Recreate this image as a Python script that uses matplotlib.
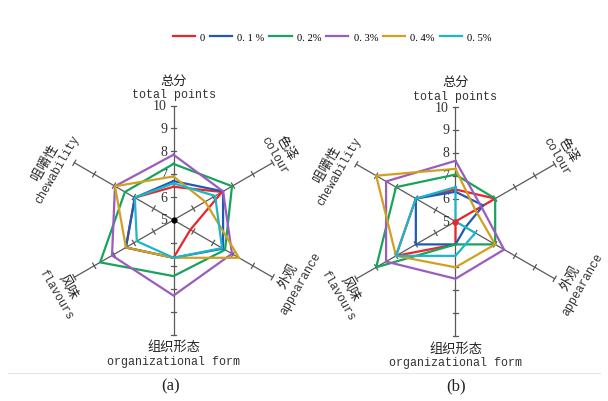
import numpy as np
import matplotlib
matplotlib.use("Agg")
import matplotlib.pyplot as plt
from matplotlib.lines import Line2D

# Axis names (clockwise from the top)
categories_cn = ["总分", "色泽", "外观", "组织形态", "风味", "咀嚼性"]
categories_en = ["total points", "colour", "appearance", "organizational form", "flavours", "chewability"]
axis_angles = [90, 30, -30, -90, 210, 150]

series_labels = ["0", "0. 1 %", "0. 2%", "0. 3%", "0. 4%", "0. 5%"]
series_colors = ["#e8262b", "#1f5bb5", "#18a35c", "#9a5cbf", "#d2a020", "#1bb6c9"]

# Scores (a) and panel (b), same axis order as above
scores_a = [
    [6.45, 7.45, 5.85, 6.65, 7.4, 6.95],
    [6.7, 7.5, 7.5, 6.65, 7.4, 6.95],
    [7.45, 7.95, 7.6, 7.45, 8.7, 7.45],
    [7.85, 7.5, 7.95, 8.3, 8.1, 7.95],
    [6.9, 6.6, 8.3, 6.65, 7.4, 7.95],
    [6.6, 7.1, 7.45, 6.65, 6.85, 6.95],
]
scores_b = [
    [6.4, 7.0, 5.0, 6.0, 8.0, 7.0],
    [6.3, 6.4, 5.5, 6.0, 7.0, 7.0],
    [7.05, 7.0, 7.0, 6.0, 9.0, 8.0],
    [7.65, 6.3, 7.45, 7.5, 8.5, 8.5],
    [7.3, 6.0, 7.0, 7.0, 8.0, 9.0],
    [6.5, 5.0, 6.0, 6.5, 8.0, 7.0],
]
scale_ticks = [5, 6, 7, 8, 9, 10]
panel_tags = ["(a)", "(b)"]

# label placement: (angle, radius, rotation) for each axis name block
label_place = [(90, 5.8, 0), (33, 5.55, -60), (-26, 5.85, 60),
               (-90, 5.83, 0), (212, 5.75, -60), (156, 5.85, 60)]

W, H = 608, 402
unit = 22.9  # pixels per score point
fig = plt.figure(figsize=(W / 100, H / 100), dpi=100)

cn_font = ["Noto Sans CJK SC", "DejaVu Sans"]
en_font = ["Liberation Mono", "DejaVu Sans Mono"]
num_font = ["Liberation Serif", "DejaVu Serif"]


def make_axes(cx, cy):
    w, h = 300, 330
    ax = fig.add_axes([(cx - w / 2) / W, (H - cy - h / 2) / H, w / W, h / H])
    ax.set_xlim(-w / 2 / unit, w / 2 / unit)
    ax.set_ylim(-h / 2 / unit, h / 2 / unit)
    ax.axis("off")
    return ax


def draw_radar(ax, scores, center_color):
    base = scale_ticks[0]
    top = scale_ticks[-1] - base
    for ang in axis_angles:
        a = np.deg2rad(ang)
        c, s = np.cos(a), np.sin(a)
        ax.plot([0, top * c], [0, top * s], color="#595959", lw=0.9, zorder=1)
        for t in scale_ticks[1:]:
            r = t - base
            px, py = -s * 0.13, c * 0.13
            ax.plot([r * c - px, r * c + px], [r * s - py, r * s + py],
                    color="#595959", lw=0.9, zorder=1)
    for t in scale_ticks:
        ax.text(-0.28, t - base, str(t), ha="right", va="center",
                fontsize=10, family=num_font, color="#333333", zorder=1)
    for (ang, rad, rot), cn, en in zip(label_place, categories_cn, categories_en):
        a = np.deg2rad(ang)
        x, y = rad * np.cos(a), rad * np.sin(a)
        u = np.deg2rad(rot + 90)
        d = 0.31
        ax.text(x + d * np.cos(u), y + d * np.sin(u), cn, rotation=rot,
                rotation_mode="anchor", ha="center", va="center",
                fontsize=9.5, family=cn_font, color="#222222")
        ax.text(x - d * np.cos(u), y - d * np.sin(u), en, rotation=rot,
                rotation_mode="anchor", ha="center", va="center",
                fontsize=8.4, family=en_font, color="#333333")
    ang = np.deg2rad(axis_angles + axis_angles[:1])
    for vals, col in zip(scores, series_colors):
        v = np.array(vals + vals[:1]) - base
        ax.plot(v * np.cos(ang), v * np.sin(ang), color=col, lw=1.6,
                solid_joinstyle="miter", zorder=3)
    ax.plot([0], [0], "o", color=center_color, ms=3.5, zorder=4)


ax_a = make_axes(173.5, 221)
draw_radar(ax_a, scores_a, "black")
ax_b = make_axes(455.5, 222.5)
draw_radar(ax_b, scores_b, series_colors[0])

# panel tags and separator line
fig.add_artist(Line2D([8 / W, 600 / W], [1 - 374 / H, 1 - 374 / H],
                      color="#e6e6e6", lw=0.8))
fig.text(171 / W, 1 - 386 / H, panel_tags[0], ha="center", va="center",
         fontsize=12, family=num_font, color="#222222")
fig.text(456 / W, 1 - 386 / H, panel_tags[1], ha="center", va="center",
         fontsize=12, family=num_font, color="#222222")

handles = [Line2D([], [], color=c, lw=1.6) for c in series_colors]
fig.legend(handles, series_labels, loc="center", ncol=6, frameon=False,
           bbox_to_anchor=(332 / W, 1 - 38 / H), handlelength=2.1,
           handletextpad=0.5, columnspacing=0.45,
           prop={"family": num_font, "size": 7.6})

fig.savefig("out.png", dpi=100, facecolor="white")
